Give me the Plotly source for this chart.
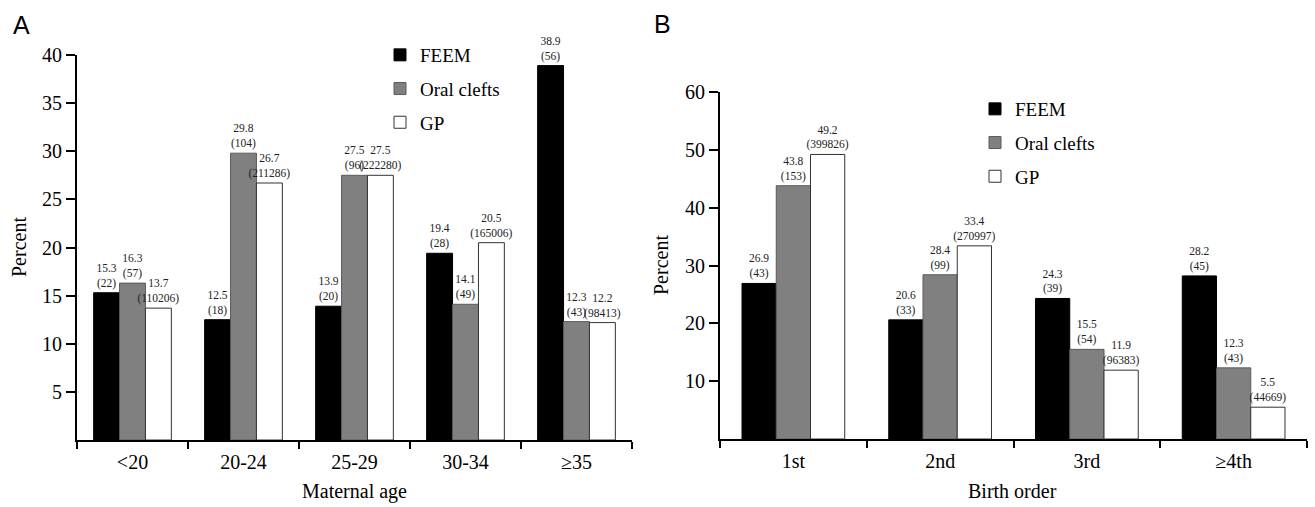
import plotly.graph_objects as go

W, H = 1315, 507

# ---- Data ----
age_groups = ["<20", "20-24", "25-29", "30-34", "≥35"]
age_feem = [15.3, 12.5, 13.9, 19.4, 38.9]
age_feem_n = [22, 18, 20, 28, 56]
age_clefts = [16.3, 29.8, 27.5, 14.1, 12.3]
age_clefts_n = [57, 104, 96, 49, 43]
age_gp = [13.7, 26.7, 27.5, 20.5, 12.2]
age_gp_n = [110206, 211286, 222280, 165006, 98413]

birth_orders = ["1st", "2nd", "3rd", "≥4th"]
bo_feem = [26.9, 20.6, 24.3, 28.2]
bo_feem_n = [43, 33, 39, 45]
bo_clefts = [43.8, 28.4, 15.5, 12.3]
bo_clefts_n = [153, 99, 54, 43]
bo_gp = [49.2, 33.4, 11.9, 5.5]
bo_gp_n = [399826, 270997, 96383, 44669]

series_names = ["FEEM", "Oral clefts", "GP"]
fill_colors = ["#000000", "#808080", "#ffffff"]
line_colors = ["#000000", "#5a5a5a", "#333333"]

SERIF = "Liberation Serif"
SANS = "Liberation Sans"


def px(x):
    return x / W


def py(y):
    return 1 - y / H


def labels(vals, ns):
    return [f"{v}<br>({n})" for v, n in zip(vals, ns)]


fig = go.Figure()

panelA = [(age_feem, age_feem_n), (age_clefts, age_clefts_n), (age_gp, age_gp_n)]
panelB = [(bo_feem, bo_feem_n), (bo_clefts, bo_clefts_n), (bo_gp, bo_gp_n)]

for panel, cats, xa, ya, lg in [(panelA, age_groups, "x", "y", "legend"),
                                (panelB, birth_orders, "x2", "y2", "legend2")]:
    for i, (vals, ns) in enumerate(panel):
        fig.add_trace(go.Bar(
            x=cats, y=vals, name=series_names[i],
            legendgroup=f"{lg}_{i}",
            marker=dict(color=fill_colors[i], line=dict(color=line_colors[i], width=1)),
            text=labels(vals, ns), textposition="outside", constraintext="none",
            textfont=dict(family=SERIF, size=11.5, color="#222222"),
            cliponaxis=False, xaxis=xa, yaxis=ya, legend=lg,
            hoverinfo="skip",
        ))

axis_common = dict(
    showline=True, linecolor="black", linewidth=2, showgrid=False, zeroline=False,
    ticks="outside", tickcolor="black", tickwidth=2,
    tickfont=dict(family=SERIF, size=20, color="black"), automargin=False,
)

fig.update_layout(
    width=W, height=H,
    margin=dict(l=0, r=0, t=0, b=0),
    paper_bgcolor="white", plot_bgcolor="white",
    font=dict(family=SERIF, color="black"),
    barmode="group", bargap=0.3, bargroupgap=0,
    xaxis=dict(domain=[px(77), px(632)], anchor="y", type="category",
               tickson="boundaries", ticklen=7, ticklabelstandoff=3, **axis_common),
    yaxis=dict(domain=[py(440), py(55)], anchor="x", range=[0, 40],
               tickvals=[5, 10, 15, 20, 25, 30, 35, 40], ticklen=9, **axis_common),
    xaxis2=dict(domain=[px(720), px(1307)], anchor="y2", type="category",
                tickson="boundaries", ticklen=7, ticklabelstandoff=3, **axis_common),
    yaxis2=dict(domain=[py(439), py(92)], anchor="x2", range=[0, 60],
                tickvals=[10, 20, 30, 40, 50, 60], ticklen=9, **axis_common),
    legend=dict(x=px(380), y=py(36), xanchor="left", yanchor="top",
                font=dict(family=SERIF, size=19, color="black"),
                bgcolor="rgba(0,0,0,0)", itemwidth=30, tracegroupgap=6),
    legend2=dict(x=px(975), y=py(90), xanchor="left", yanchor="top",
                 font=dict(family=SERIF, size=19, color="black"),
                 bgcolor="rgba(0,0,0,0)", itemwidth=30, tracegroupgap=6),
    showlegend=True,
    annotations=[
        dict(text="A", x=px(11), y=py(25), xref="paper", yref="paper",
             xanchor="left", yanchor="middle", showarrow=False,
             font=dict(family=SANS, size=25, color="black")),
        dict(text="B", x=px(652), y=py(24), xref="paper", yref="paper",
             xanchor="left", yanchor="middle", showarrow=False,
             font=dict(family=SANS, size=25, color="black")),
        dict(text="Percent", x=px(19), y=py(247), xref="paper", yref="paper",
             xanchor="center", yanchor="middle",
             textangle=-90, showarrow=False,
             font=dict(family=SERIF, size=20, color="black")),
        dict(text="Percent", x=px(661), y=py(265), xref="paper", yref="paper",
             xanchor="center", yanchor="middle",
             textangle=-90, showarrow=False,
             font=dict(family=SERIF, size=20, color="black")),
        dict(text="Maternal age", x=px(354), y=py(491), xref="paper", yref="paper",
             xanchor="center", yanchor="middle",
             showarrow=False, font=dict(family=SERIF, size=20, color="black")),
        dict(text="Birth order", x=px(1013), y=py(491), xref="paper", yref="paper",
             xanchor="center", yanchor="middle",
             showarrow=False, font=dict(family=SERIF, size=20, color="black")),
    ],
)

# Remove the browser's default page margin so the figure fills the window.
fig.write_html("out.html",
               config={"displayModeBar": False},
               post_script="document.body.style.margin='0';"
                           "document.body.style.overflow='hidden';")
